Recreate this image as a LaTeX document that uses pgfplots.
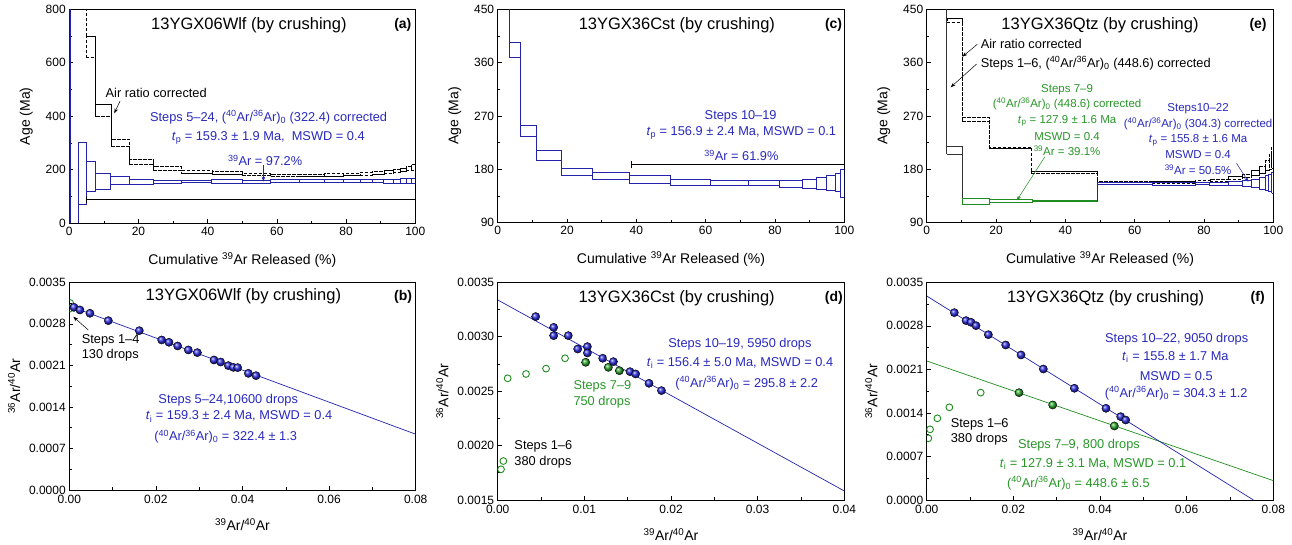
\documentclass[border=0pt]{standalone}
\usepackage{fontspec}
\setmainfont{Liberation Sans}
\usepackage{pgfplots}
\usepackage{pgfplotstable}
\pgfplotsset{compat=1.18}
\usetikzlibrary{arrows.meta}

\definecolor{sblue}{RGB}{35,35,170}
\definecolor{tblue}{RGB}{40,40,190}
\definecolor{pblue}{RGB}{45,45,225}
\definecolor{sgreen}{RGB}{30,140,30}
\definecolor{pgreen}{RGB}{45,170,45}
\definecolor{tgreen}{RGB}{40,150,40}
\definecolor{kgray}{RGB}{50,50,50}

\newcommand\ar[1]{\textsuperscript{#1}Ar}
\newcommand\ratio{(\ar{40}/\ar{36})\textsubscript{0}}
\newcommand\ann{\fontsize{12.8}{14}\selectfont}
\newcommand\anns{\fontsize{11.5}{13}\selectfont}
\newcommand\ttl{\fontsize{16.5}{18}\selectfont}
\newcommand\lett{\fontsize{14}{16}\selectfont\bfseries}

% one rectangle per step: x0 x1 lo hi
\newcommand\boxes[2]{%
  \pgfplotstablegetrowsof{#1}%
  \pgfmathtruncatemacro\nlast{\pgfplotsretval-1}%
  \pgfplotsforeachungrouped \i in {0,...,\nlast}{%
    \pgfplotstablegetelem{\i}{x0}\of{#1}\let\xa\pgfplotsretval
    \pgfplotstablegetelem{\i}{x1}\of{#1}\let\xb\pgfplotsretval
    \pgfplotstablegetelem{\i}{lo}\of{#1}\let\ya\pgfplotsretval
    \pgfplotstablegetelem{\i}{hi}\of{#1}\let\yb\pgfplotsretval
    \edef\tmp{\noexpand\addplot[#2] coordinates {(\xa,\ya) (\xb,\ya) (\xb,\yb) (\xa,\yb) (\xa,\ya)};}%
    \tmp
  }%
}

\tikzset{
  arr/.style={-{Stealth[length=5pt,width=3.5pt]}, line width=0.5pt},
}
\pgfplotsset{
  panel/.style={scale only axis, tick align=inside, tick pos=left, minor tick num=1,
    axis line style={line width=0.8pt}, major tick length=4pt, minor tick length=2.5pt,
    every tick/.style={black, line width=0.6pt},
    scaled ticks=false, /pgf/number format/assume math mode=true,
    tick label style={font=\fontsize{12}{14}\selectfont},
    label style={font=\fontsize{14}{16}\selectfont},
    xlabel shift=10pt,
    clip marker paths=true},
  spec/.style={panel, xmin=0, xmax=100, xtick={0,20,...,100},
    xlabel={Cumulative \ar{39} Released (\%)}, ylabel={Age (Ma)}, ylabel shift=6pt},
  iso/.style={panel, xlabel={\ar{39}/\ar{40}}, ylabel={\ar{36}/\ar{40}}, ylabel shift=2pt, xlabel shift=8pt,
    yticklabel style={/pgf/number format/.cd, fixed, fixed zerofill, precision=4, /tikz/.cd},
    xticklabel style={yshift=-2pt, /pgf/number format/.cd, fixed, fixed zerofill, precision=2, /tikz/.cd}},
  bbox/.style={sblue, line width=0.8pt, line join=miter},
  gbox/.style={sgreen, line width=0.8pt, line join=miter},
  kbox/.style={kgray, line width=0.8pt, line join=miter},
  dbox/.style={black, densely dashed, line width=0.6pt},
  plat/.style={black, line width=0.7pt, {Bar[width=7pt]}-{Bar[width=7pt]}},
  balls/.style={only marks, mark=ball, mark size=4.1pt, mark options={ball color=#1}},
  rings/.style={only marks, mark=o, mark size=3.4pt, sgreen, line width=0.9pt},
}

% ---------- (a) 13YGX06Wlf spectrum ----------
\pgfplotstableread{
x0 x1 lo hi
2.6 4.8 72 302.8
4.8 7.6 119.6 233
7.6 12.0 128 188
12.0 17.4 147 175.6
17.4 24.4 147 165
24.4 32.5 151 162
32.5 41.2 151.5 162
41.2 49.9 151 163
49.9 58.2 151 162
58.2 66.4 152.5 163.5
66.4 73.8 152 162.5
73.8 79.2 152.5 163.5
79.2 84.0 152.5 164
84.0 87.6 153 165
87.6 90.9 151.5 164
90.9 93.6 150 162.5
93.6 95.7 150 164
95.7 97.4 149.5 166
97.4 98.8 149 167
98.8 100 148 168
}\tabAblue
\pgfplotstableread{
x0 x1 lo hi
4.8 7.6 620 700
7.6 12.0 399 446
12.0 17.4 289 314
17.4 24.4 222 239
24.4 32.5 197 212
32.5 41.2 188 199
41.2 49.9 184 193
49.9 58.2 178 188
58.2 66.4 176 185
66.4 73.8 175 183
73.8 79.2 176 186
79.2 84.0 179 188
84.0 87.6 181 191
87.6 90.9 184 195
90.9 93.6 187 197
93.6 95.7 189 203
95.7 97.4 193 206
97.4 98.8 197 214
98.8 100 199 221
}\tabAair

% ---------- (c) 13YGX36Cst spectrum ----------
\pgfplotstableread{
x0 x1 lo hi
3.3 6.6 369 394.3
6.6 11.3 236 254.8
11.3 18.4 194.5 212.7
18.4 27.3 170 181.7
27.3 38.0 163 174.3
38.0 49.7 156.4 169.2
49.7 61.3 153.5 163
61.3 72.4 153 162
72.4 81.3 153 161.5
81.3 87.8 149.6 160.8
87.8 91.9 148 163
91.9 94.8 146.8 166.5
94.8 97.4 145 170.4
97.4 98.8 142.2 173.3
98.8 100 132 180
}\tabC

% ---------- (e) 13YGX36Qtz spectrum ----------
\pgfplotstableread{
x0 x1 lo hi
5.8 10.3 205.3 218.2
}\tabEsolid
\pgfplotstableread{
x0 x1 lo hi
5.8 10.3 427.4 434.8
10.3 18.0 260.3 267.7
18.0 30.3 215.4 218
30.3 49.2 173.3 176
49.2 65.0 157.5 160
65.0 77.5 157 160
77.5 81.7 158 161
81.7 87.0 159 163
87.0 91.1 163 167.5
91.1 93.7 166.5 172
93.7 96.1 170 178.8
96.1 97.8 173 184.4
97.8 98.7 178.8 195.7
98.7 99.5 180 205
99.5 100 182 218
}\tabEair
\pgfplotstableread{
x0 x1 lo hi
10.2 18.1 121.4 131.6
18.1 30.4 124.9 129.4
30.4 49.3 126.1 128.3
}\tabEgreen
\pgfplotstableread{
x0 x1 lo hi
49.3 65.0 154.7 157.4
65.0 77.5 153.5 157.4
77.5 81.7 154.5 158
81.7 87.0 153 158.5
87.0 91.1 153 159
91.1 93.7 152 161
93.7 96.1 150 163
96.1 97.8 147 166
97.8 98.7 145 169
98.7 99.5 143 172
99.5 100 140 175
}\tabEblue

% ---------- isochrons ----------
\pgfplotstableread{
x y
0.00108 0.003079
0.00246 0.003034
0.00477 0.002978
0.00901 0.002854
0.01617 0.002685
0.02133 0.002528
0.02302 0.002489
0.02502 0.002427
0.02749 0.002360
0.02957 0.002315
0.03342 0.002191
0.03496 0.002157
0.03673 0.002096
0.03788 0.002067
0.03888 0.002062
0.04135 0.001966
0.04312 0.001927
}\bBlue
\pgfplotstableread{
x y
0.0002 0.00315
0.0002 0.00306
}\bOpen

\pgfplotstableread{
x y
0.00438 0.003185
0.00646 0.003086
0.00646 0.003010
0.00815 0.003010
0.00923 0.002887
0.01035 0.002909
0.01035 0.002851
0.01212 0.002802
0.01335 0.002771
0.01527 0.002679
0.01592 0.002658
0.01746 0.002572
0.01890 0.002505
}\dBlue
\pgfplotstableread{
x y
0.01015 0.002765
0.01277 0.002719
0.01404 0.002688
}\dGreen
\pgfplotstableread{
x y
0.00115 0.002618
0.00327 0.002658
0.00558 0.002707
0.00777 0.002802
0.00038 0.001782
0.00065 0.001858
}\dOpen

\pgfplotstableread{
x y
0.00638 0.003012
0.00908 0.002884
0.01023 0.002857
0.01138 0.002803
0.01423 0.002658
0.01823 0.002492
0.02177 0.002332
0.02692 0.002106
0.03408 0.001796
0.04138 0.001474
0.04477 0.001340
0.04592 0.001286
}\fBlue
\pgfplotstableread{
x y
0.02131 0.001726
0.02908 0.001528
0.04331 0.001190
}\fGreen
\pgfplotstableread{
x y
0.00038 0.000992
0.00077 0.001136
0.00246 0.001313
0.00523 0.001490
0.01246 0.001726
}\fOpen

\begin{document}
\begin{tikzpicture}

% (a)
\begin{axis}[spec, at={(69.3pt,321.7pt)}, anchor=south west, width=346pt, height=214pt,
  ymin=0, ymax=800, ytick={0,200,...,800}]
\addplot[sblue, line width=1.8pt] coordinates {(0.3,0) (0.3,800)};
\addplot[bbox] coordinates {(2.6,0) (2.6,72)};
\boxes{\tabAblue}{bbox}
\addplot[bbox, const plot] table[x=x0, y=hi] {\tabAblue};
\addplot[bbox, const plot] table[x=x0, y=lo] {\tabAblue};
\addplot[dbox] coordinates {(4.8,700) (4.8,850)};
\boxes{\tabAair}{dbox}
\addplot[dbox, const plot] table[x=x0, y=hi] {\tabAair};
\addplot[dbox, const plot] table[x=x0, y=lo] {\tabAair};
\addplot[plat] coordinates {(4.8,90) (100,90)};
\node[font=\ttl] at (axis cs:51.9,741) {13YGX06Wlf (by crushing)};
\node[font=\lett] at (axis cs:96.4,741) {(a)};
\node[anchor=west, font=\ann] at (axis cs:9.5,486) {Air ratio corrected};
\draw[arr] (axis cs:14.7,458) -- (axis cs:13.0,411);
\node[tblue, font=\ann] at (axis cs:57.6,396) {Steps 5–24, \ratio\ (322.4) corrected};
\node[tblue, font=\ann] at (axis cs:57.5,320) {\textit{t}\textsubscript{p} = 159.3 ± 1.9 Ma,\ \ MSWD = 0.4};
\node[tblue, font=\ann] at (axis cs:56.6,234) {\ar{39} = 97.2\%};
\draw[sblue, arr] (axis cs:56.1,218) -- (axis cs:56.1,156);
\end{axis}

% (c)
\begin{axis}[spec, at={(497.7pt,322.3pt)}, anchor=south west, width=346.6pt, height=213.4pt,
  ymin=90, ymax=450, ytick={90,180,...,450}]
\addplot[bbox] coordinates {(3.3,394.3) (3.3,460)};
\boxes{\tabC}{bbox}
\addplot[bbox, const plot] table[x=x0, y=hi] {\tabC};
\addplot[bbox, const plot] table[x=x0, y=lo] {\tabC};
\addplot[plat] coordinates {(38.4,187.8) (100,187.8)};
\node[font=\ttl] at (axis cs:51.7,423.5) {13YGX36Cst (by crushing)};
\node[font=\lett] at (axis cs:96.9,423.5) {(c)};
\node[tblue, font=\ann] at (axis cs:70.1,268.8) {Steps 10–19};
\node[tblue, font=\ann] at (axis cs:70.3,240.7) {\textit{t}\textsubscript{p} = 156.9 ± 2.4 Ma, MSWD = 0.1};
\node[tblue, font=\ann] at (axis cs:70.3,204) {\ar{39} = 61.9\%};
\end{axis}

% (e)
\begin{axis}[spec, at={(926.7pt,322.3pt)}, anchor=south west, width=346.6pt, height=213.4pt,
  ymin=90, ymax=450, ytick={90,180,...,450}]
\addplot[kbox] coordinates {(5.8,218.2) (5.8,460)};
\addplot[kbox] coordinates {(10.3,131.6) (10.3,205.3)};
\boxes{\tabEsolid}{kbox}
\boxes{\tabEair}{dbox}
\addplot[dbox, const plot] table[x=x0, y=hi] {\tabEair};
\addplot[dbox, const plot] table[x=x0, y=lo] {\tabEair};
\boxes{\tabEgreen}{gbox}
\addplot[bbox] coordinates {(49.3,127) (49.3,155)};
\boxes{\tabEblue}{bbox}
\addplot[bbox, const plot] table[x=x0, y=hi] {\tabEblue};
\addplot[bbox, const plot] table[x=x0, y=lo] {\tabEblue};
\node[font=\ttl] at (axis cs:50,423.5) {13YGX36Qtz (by crushing)};
\node[font=\lett] at (axis cs:95.6,423.5) {(e)};
\node[anchor=west, font=\ann] at (axis cs:14.6,390.9) {Air ratio corrected};
\node[anchor=west, font=\ann] at (axis cs:14.6,358.9) {Steps 1–6, \ratio\ (448.6) corrected};
\draw[arr] (axis cs:14.6,391) -- (axis cs:10.3,370);
\draw[arr] (axis cs:14.4,357.7) -- (axis cs:6.9,318.4);
\node[tgreen, font=\anns] at (axis cs:40.5,313.8) {Steps 7–9};
\node[tgreen, font=\anns] at (axis cs:40.5,290.2) {\ratio\ (448.6) corrected};
\node[tgreen, font=\anns] at (axis cs:40.5,262) {\textit{t}\textsubscript{p} = 127.9 ± 1.6 Ma};
\node[tgreen, font=\anns] at (axis cs:40.5,235) {MSWD = 0.4};
\node[tgreen, font=\anns] at (axis cs:40.5,211.4) {\ar{39} = 39.1\%};
\draw[sgreen, arr] (axis cs:34.1,201.3) -- (axis cs:26.0,127.5);
\node[tblue, font=\anns] at (axis cs:78.3,283) {Steps10–22};
\node[tblue, font=\anns] at (axis cs:78.3,256.4) {\ratio\ (304.3) corrected};
\node[tblue, font=\anns] at (axis cs:78.3,229.5) {\textit{t}\textsubscript{p} = 155.8 ± 1.6 Ma};
\node[tblue, font=\anns] at (axis cs:78.3,204.2) {MSWD = 0.4};
\node[tblue, font=\anns] at (axis cs:78.3,178.8) {\ar{39} = 50.5\%};
\draw[sblue, arr] (axis cs:89.4,190.1) -- (axis cs:92.8,159);
\end{axis}

% (b)
\begin{axis}[iso, at={(69.3pt,55pt)}, anchor=south west, width=346.4pt, height=207.7pt,
  xmin=0, xmax=0.08, ymin=0, ymax=0.0035,
  xtick={0,0.02,0.04,0.06,0.08}, ytick={0,0.0007,0.0014,0.0021,0.0028,0.0035}]
\addplot[sblue, line width=0.7pt] coordinates {(0,0.003102) (0.08,0.00094)};
\addplot[rings] table {\bOpen};
\addplot[balls=pblue] table {\bBlue};
\node[font=\ttl] at (axis cs:0.0402,0.003257) {13YGX06Wlf (by crushing)};
\node[font=\lett] at (axis cs:0.0771,0.003257) {(b)};
\node[anchor=west, font=\ann] at (axis cs:0.00208,0.002528) {Steps 1–4};
\node[anchor=west, font=\ann] at (axis cs:0.00208,0.002275) {130 drops};
\draw[arr] (axis cs:0.00439,0.002696) -- (axis cs:0.00092,0.00292);
\node[tblue, font=\ann] at (axis cs:0.0367,0.001517) {Steps 5–24,10600 drops};
\node[tblue, font=\ann] at (axis cs:0.0392,0.001235) {\textit{t}\textsubscript{i} = 159.3 ± 2.4 Ma, MSWD = 0.4};
\node[tblue, font=\ann] at (axis cs:0.0361,0.000898) {\ratio\ = 322.4 ± 1.3};
\end{axis}

% (d)
\begin{axis}[iso, at={(497.7pt,45pt)}, anchor=south west, width=346.6pt, height=217.7pt,
  xmin=0, xmax=0.04, ymin=0.0015, ymax=0.0035,
  xtick={0,0.01,0.02,0.03,0.04}, ytick={0.0015,0.0020,0.0025,0.0030,0.0035}]
\addplot[sblue, line width=0.7pt] coordinates {(0,0.003338) (0.04,0.001583)};
\addplot[rings] table {\dOpen};
\addplot[balls=pgreen] table {\dGreen};
\addplot[balls=pblue] table {\dBlue};
\node[font=\ttl] at (axis cs:0.02065,0.003353) {13YGX36Cst (by crushing)};
\node[font=\lett] at (axis cs:0.0388,0.003353) {(d)};
\node[tblue, font=\ann] at (axis cs:0.02796,0.002933) {Steps 10–19, 5950 drops};
\node[tblue, font=\ann] at (axis cs:0.02796,0.002761) {\textit{t}\textsubscript{i} = 156.4 ± 5.0 Ma, MSWD = 0.4};
\node[tblue, font=\ann] at (axis cs:0.02873,0.002572) {\ratio\ = 295.8 ± 2.2};
\node[tgreen, anchor=west, font=\ann] at (axis cs:0.00834,0.002541) {Steps 7–9};
\node[tgreen, anchor=west, font=\ann] at (axis cs:0.00834,0.002403) {750 drops};
\node[anchor=west, font=\ann] at (axis cs:0.00153,0.00199) {Steps 1–6};
\node[anchor=west, font=\ann] at (axis cs:0.00153,0.001843) {380 drops};
\end{axis}

% (f)
\begin{axis}[iso, at={(926.7pt,45pt)}, anchor=south west, width=346.6pt, height=217.7pt,
  xmin=0, xmax=0.08, ymin=0, ymax=0.0035,
  xtick={0,0.02,0.04,0.06,0.08}, ytick={0,0.0007,0.0014,0.0021,0.0028,0.0035}]
\addplot[sgreen, line width=0.7pt] coordinates {(0,0.002235) (0.08,0.000311)};
\addplot[sblue, line width=0.7pt] coordinates {(0,0.00328) (0.0754,0)};
\addplot[rings] table {\fOpen};
\addplot[balls=pgreen] table {\fGreen};
\addplot[balls=pblue] table {\fBlue};
\node[font=\ttl] at (axis cs:0.0413,0.003243) {13YGX36Qtz (by crushing)};
\node[font=\lett] at (axis cs:0.0764,0.003243) {(f)};
\node[tblue, font=\ann] at (axis cs:0.0577,0.002584) {Steps 10–22, 9050 drops};
\node[tblue, font=\ann] at (axis cs:0.0574,0.002294) {\textit{t}\textsubscript{i} = 155.8 ± 1.7 Ma};
\node[tblue, font=\ann] at (axis cs:0.0576,0.001994) {MSWD = 0.5};
\node[tblue, font=\ann] at (axis cs:0.0576,0.001715) {\ratio\ = 304.3 ± 1.2};
\node[anchor=west, font=\ann] at (axis cs:0.00476,0.001222) {Steps 1–6};
\node[anchor=west, font=\ann] at (axis cs:0.00476,0.000976) {380 drops};
\node[tgreen, font=\ann] at (axis cs:0.03515,0.000884) {Steps 7–9, 800 drops};
\node[tgreen, font=\ann] at (axis cs:0.0384,0.000579) {\textit{t}\textsubscript{i} = 127.9 ± 3.1 Ma, MSWD = 0.1};
\node[tgreen, font=\ann] at (axis cs:0.0350,0.000268) {\ratio\ = 448.6 ± 6.5};
\end{axis}

\pgfresetboundingbox
\path[use as bounding box] (0pt,0pt) rectangle (1292pt,545pt);
\end{tikzpicture}
\end{document}
